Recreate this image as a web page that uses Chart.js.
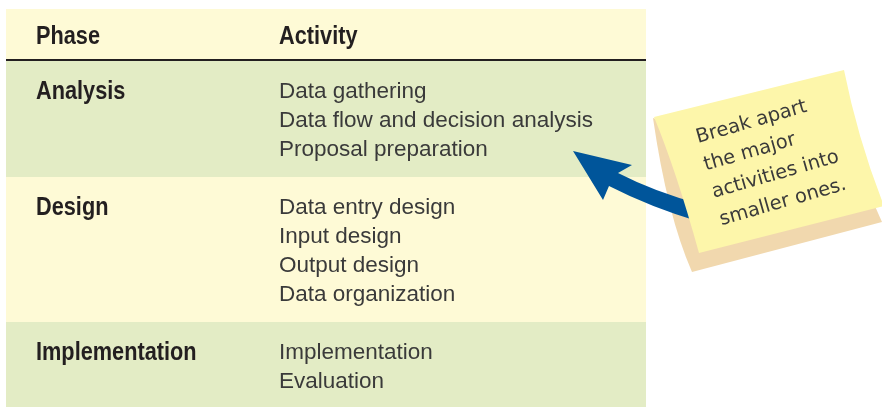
<!DOCTYPE html>
<html>
<head>
<meta charset="utf-8">
<script src="https://cdn.jsdelivr.net/npm/chart.js@4.4.1/dist/chart.umd.min.js"></script>
<style>
  html, body { margin: 0; padding: 0; background: #fff; }
  #wrap { width: 882px; height: 407px; }
</style>
</head>
<body>
<div id="wrap"><canvas id="phaseTable" width="882" height="407"></canvas></div>
<script>
// table content
const columns = ['Phase', 'Activity'];
const phases = ['Analysis', 'Design', 'Implementation'];
const analysisActivities = ['Data gathering', 'Data flow and decision analysis', 'Proposal preparation'];
const designActivities = ['Data entry design', 'Input design', 'Output design', 'Data organization'];
const implementationActivities = ['Implementation', 'Evaluation'];
const noteLines = ['Break apart', 'the major', 'activities into', 'smaller ones.'];

const activities = [analysisActivities, designActivities, implementationActivities];

// layout (in scale units, 1 unit = 1px)
const TABLE_LEFT = 6, TABLE_RIGHT = 646;
const HEADER_TOP = 9, HEADER_BOTTOM = 59, RULE = 2;
const LINE_H = 29;
const PHASE_X = 36, ACTIVITY_X = 279;

const CREAM = '#fefad6';
const GREEN = '#e3ecc5';
const BOLD_FONT = '700 26.5px "Liberation Sans", Arial, sans-serif';
const TEXT_FONT = '22.5px "Liberation Sans", Arial, sans-serif';
const NOTE_FONT = '19.5px "DejaVu Sans", sans-serif';

// bold headings are a condensed face: squeeze Liberation Sans Bold horizontally
function drawCondensed(ctx, text, x, y) {
    ctx.save();
    ctx.translate(x, y);
    ctx.scale(0.82, 1);
    ctx.fillText(text, 0, 0);
    ctx.restore();
}

const tablePlugin = {
    id: 'tablePlugin',
    beforeDatasetsDraw(chart) {
        const { ctx, scales: { x, y } } = chart;
        const px = v => x.getPixelForValue(v);
        const py = v => y.getPixelForValue(v);
        const w = px(TABLE_RIGHT) - px(TABLE_LEFT);

        ctx.save();
        // header band
        ctx.fillStyle = CREAM;
        ctx.fillRect(px(TABLE_LEFT), py(HEADER_TOP), w, py(HEADER_BOTTOM) - py(HEADER_TOP));
        ctx.fillStyle = '#231f20';
        ctx.fillRect(px(TABLE_LEFT), py(HEADER_BOTTOM), w, py(HEADER_BOTTOM + RULE) - py(HEADER_BOTTOM));

        ctx.textBaseline = 'alphabetic';
        ctx.font = BOLD_FONT;
        drawCondensed(ctx, columns[0], px(PHASE_X), py(HEADER_TOP + 35));
        drawCondensed(ctx, columns[1], px(ACTIVITY_X), py(HEADER_TOP + 35));

        // phase rows
        let top = HEADER_BOTTOM + RULE;
        phases.forEach((phase, i) => {
            const lines = activities[i];
            const isLast = i === phases.length - 1;
            const bottom = isLast ? 407 : top + (lines.length + 1) * LINE_H;
            ctx.fillStyle = i % 2 === 0 ? GREEN : CREAM;
            ctx.fillRect(px(TABLE_LEFT), py(top), w, py(bottom) - py(top));

            const base = top + 36.5;
            ctx.fillStyle = '#231f20';
            ctx.font = BOLD_FONT;
            drawCondensed(ctx, phase, px(PHASE_X), py(base + 1));

            ctx.fillStyle = '#3a3a3a';
            ctx.font = TEXT_FONT;
            lines.forEach((txt, j) => {
                ctx.fillText(txt, px(ACTIVITY_X), py(base + j * LINE_H));
            });
            top = bottom;
        });
        ctx.restore();
    },
    afterDatasetsDraw(chart) {
        const { ctx, scales: { x, y } } = chart;
        const px = v => x.getPixelForValue(v);
        const py = v => y.getPixelForValue(v);
        ctx.save();

        // sticky note back sheet
        ctx.fillStyle = '#f1d8ae';
        ctx.beginPath();
        ctx.moveTo(px(653), py(118));
        ctx.quadraticCurveTo(px(667), py(215), px(692), py(272));
        ctx.lineTo(px(882), py(222));
        ctx.lineTo(px(870), py(195));
        ctx.closePath();
        ctx.fill();

        // arrow shaft + head (over the back sheet, under the front one)
        ctx.fillStyle = '#00559a';
        ctx.beginPath();
        ctx.moveTo(px(700), py(204));
        ctx.quadraticCurveTo(px(655), py(192), px(618), py(173));
        ctx.lineTo(px(632), py(165));
        ctx.lineTo(px(573), py(151));
        ctx.lineTo(px(603), py(200));
        ctx.lineTo(px(609), py(186));
        ctx.quadraticCurveTo(px(650), py(207), px(700), py(222));
        ctx.closePath();
        ctx.fill();

        // sticky note front sheet
        ctx.fillStyle = '#fdf6aa';
        ctx.beginPath();
        ctx.moveTo(px(654), py(117));
        ctx.lineTo(px(844), py(70));
        ctx.quadraticCurveTo(px(858), py(140), px(884), py(206));
        ctx.lineTo(px(699), py(253));
        ctx.quadraticCurveTo(px(676), py(170), px(654), py(117));
        ctx.closePath();
        ctx.fill();

        // note text
        ctx.translate(px(698), py(143));
        ctx.rotate(-16 * Math.PI / 180);
        ctx.fillStyle = '#3a3a3a';
        ctx.font = NOTE_FONT;
        noteLines.forEach((txt, i) => {
            ctx.fillText(txt, 0, i * 28.5);
        });
        ctx.restore();
    }
};

new Chart(document.getElementById('phaseTable'), {
    type: 'scatter',
    data: { datasets: [{ data: [], pointRadius: 0 }] },
    options: {
        responsive: false,
        devicePixelRatio: 1,
        animation: false,
        layout: { padding: 0 },
        plugins: { legend: { display: false }, tooltip: { enabled: false } },
        scales: {
            x: { type: 'linear', min: 0, max: 882, display: false },
            y: { type: 'linear', min: 0, max: 407, reverse: true, display: false }
        }
    },
    plugins: [tablePlugin]
});
</script>
</body>
</html>
